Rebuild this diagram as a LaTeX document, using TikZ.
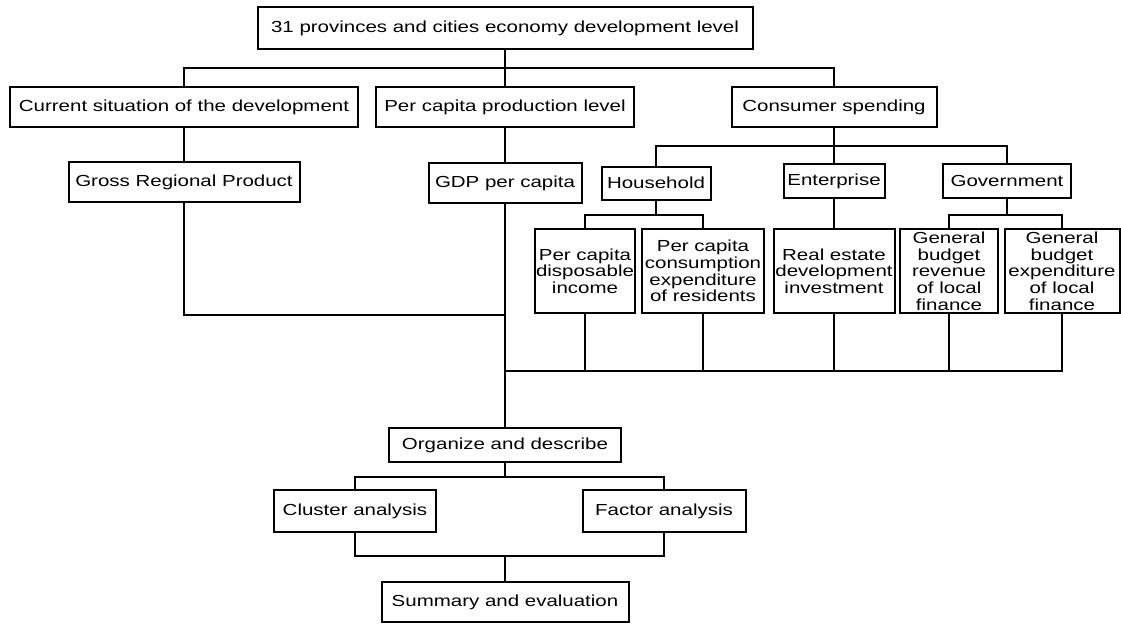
\documentclass[tikz,border=0pt]{standalone}
\usepackage{fontspec}
\setmainfont{Liberation Sans}[FakeStretch=1.28]
\newcommand\boxfont{\fontsize{16}{16.7}\selectfont\lineskiplimit=-100pt\relax}
\begin{document}
\begin{tikzpicture}[x=1pt,y=-1pt,line width=2pt,
  box/.style={draw,inner sep=1pt,align=center,font=\boxfont},
  every node/.append style={box}]
  \useasboundingbox (0,0) rectangle (1121,625);
  \node (top)  at (505,28)   [minimum width=495,minimum height=42] {31 provinces and cities economy development level};
  \node (cur)  at (184,107)  [minimum width=348,minimum height=40] {Current situation of the development};
  \node (pcp)  at (505,107)  [minimum width=258,minimum height=40] {Per capita production level};
  \node (cons) at (834,107)  [minimum width=205,minimum height=40] {Consumer spending};
  \node (grp)  at (184,182)  [minimum width=231,minimum height=40] {Gross Regional Product};
  \node (gdp)  at (505,183)  [minimum width=153,minimum height=40] {GDP per capita};
  \node (hh)   at (656,183)  [minimum width=109,minimum height=33] {Household};
  \node (ent)  at (834,181)  [minimum width=101,minimum height=34] {Enterprise};
  \node (gov)  at (1007,181) [minimum width=128,minimum height=34] {Government};
  \node (dis)  at (585,271)  [minimum width=100,minimum height=84] {Per capita\\disposable\\income};
  \node (cexp) at (703,271)  [minimum width=122,minimum height=84] {Per capita\\consumption\\expenditure\\of residents};
  \node (real) at (834,271)  [minimum width=121,minimum height=84] {Real estate\\development\\investment};
  \node (rev)  at (949,271)  [minimum width=98,minimum height=84]  {General\\budget\\revenue\\of local\\finance};
  \node (bexp) at (1062,271) [minimum width=115,minimum height=84] {General\\budget\\expenditure\\of local\\finance};
  \node (org)  at (505,445)  [minimum width=232,minimum height=34] {Organize and describe};
  \node (clu)  at (355,511)  [minimum width=162,minimum height=42] {Cluster analysis};
  \node (fac)  at (664,511)  [minimum width=163,minimum height=42] {Factor analysis};
  \node (sum)  at (505,602)  [minimum width=247,minimum height=40] {Summary and evaluation};
  \coordinate (busA) at (505,68);
  \coordinate (busB) at (834,146);
  \coordinate (busC) at (656,215);
  \coordinate (busD) at (1007,215);
  \coordinate (joinA) at (505,315);
  \coordinate (busE) at (505,371);
  \coordinate (busF) at (505,477);
  \coordinate (busG) at (505,556);
  \draw (top.south) -- (pcp.north);
  \draw (cur.north) |- (busA) -| (cons.north);
  \draw (cur.south) -- (grp.north);
  \draw (pcp.south) -- (gdp.north);
  \draw (cons.south) -- (ent.north);
  \draw (hh.north) |- (busB) -| (gov.north);
  \draw (hh.south) -- (busC);
  \draw (dis.north) |- (busC) -| (cexp.north);
  \draw (ent.south) -- (real.north);
  \draw (gov.south) -- (busD);
  \draw (rev.north) |- (busD) -| (bexp.north);
  \draw (grp.south) |- (joinA);
  \draw (gdp.south) -- (org.north);
  \foreach \n in {dis,cexp,real,rev}
    \draw (\n.south) -- (\n.south |- busE);
  \draw (busE) -| (bexp.south);
  \draw (org.south) -- (busF);
  \draw (clu.north) |- (busF) -| (fac.north);
  \draw (clu.south) |- (busG) -| (fac.south);
  \draw (busG) -- (sum.north);
\end{tikzpicture}
\end{document}
